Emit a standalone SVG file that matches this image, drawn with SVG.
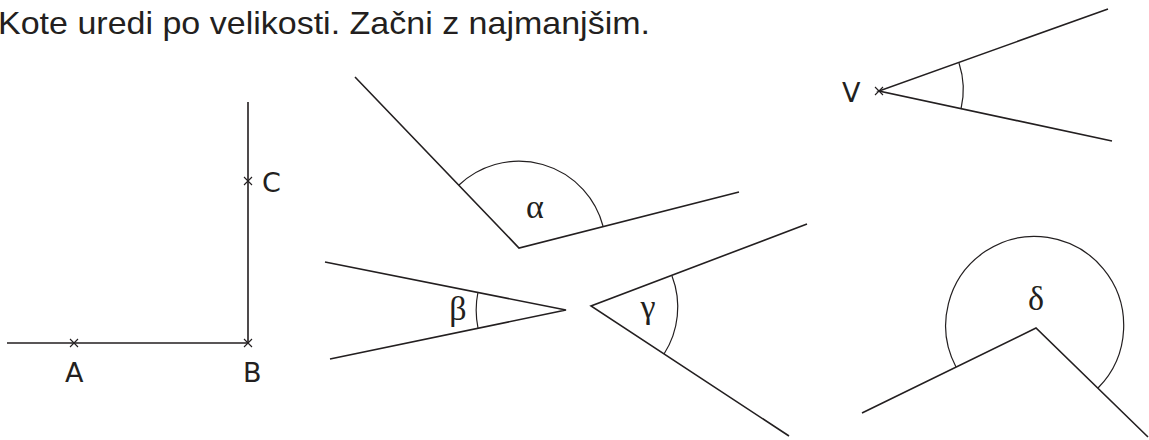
<svg xmlns="http://www.w3.org/2000/svg" width="1149" height="440" viewBox="0 0 1149 440">
<style>
.ln{stroke:#231f20;stroke-width:1.6;fill:none;stroke-linecap:butt}
.arc{stroke:#231f20;stroke-width:1.2;fill:none}
.x{stroke:#231f20;stroke-width:1.1;fill:none}
.lab{font-family:"DejaVu Sans","Open Sans",sans-serif;font-size:27px;fill:#231f20}
.gr{font-family:"Liberation Serif","Times New Roman",serif;font-size:34px;fill:#231f20;text-anchor:middle}
.title{font-family:"Liberation Sans",Arial,sans-serif;font-size:32px;fill:#231f20}
</style>
<rect width="1149" height="440" fill="#fff"/>
<text class="title" x="-2" y="34" textLength="652" lengthAdjust="spacingAndGlyphs">Kote uredi po velikosti. Začni z najmanjšim.</text>
<g id="angleABC">
<path class="ln" d="M7,343 H248 V102"/>
<path class="x" d="M70,339 l8,8 M70,347 l8,-8 M244,339 l8,8 M244,347 l8,-8 M244,177 l8,8 M244,185 l8,-8"/>
<text class="lab" x="65" y="382">A</text>
<text class="lab" x="243" y="382">B</text>
<text class="lab" x="262" y="192">C</text>
</g>
<g id="alpha">
<path class="ln" d="M355,77 L519,248 L739,192"/>
<path class="arc" d="M459,185 A87,87 0 0 1 603,226"/>
<text class="gr" x="535" y="218">α</text>
</g>
<g id="beta">
<path class="ln" d="M325,262 L566,310 L330,359"/>
<path class="arc" d="M478,292 A90,90 0 0 0 478,328"/>
<text class="gr" x="458" y="320">β</text>
</g>
<g id="gamma">
<path class="ln" d="M807,224 L591,306 L789,436"/>
<path class="arc" d="M672,276 A87,87 0 0 1 664,354"/>
<text class="gr" x="648" y="318">γ</text>
</g>
<g id="angleV">
<path class="ln" d="M1108,9 L879,91 L1112,141"/>
<path class="arc" d="M959,63 A85,85 0 0 1 961,109"/>
<path class="x" d="M875,87 l8,8 M875,95 l8,-8"/>
<text class="lab" x="842" y="102">V</text>
</g>
<g id="delta">
<path class="ln" d="M862,413 L1036,328 L1148,437"/>
<path class="arc" d="M956,367 A89,89 0 1 1 1098,388"/>
<text class="gr" x="1036" y="310">δ</text>
</g>
</svg>
